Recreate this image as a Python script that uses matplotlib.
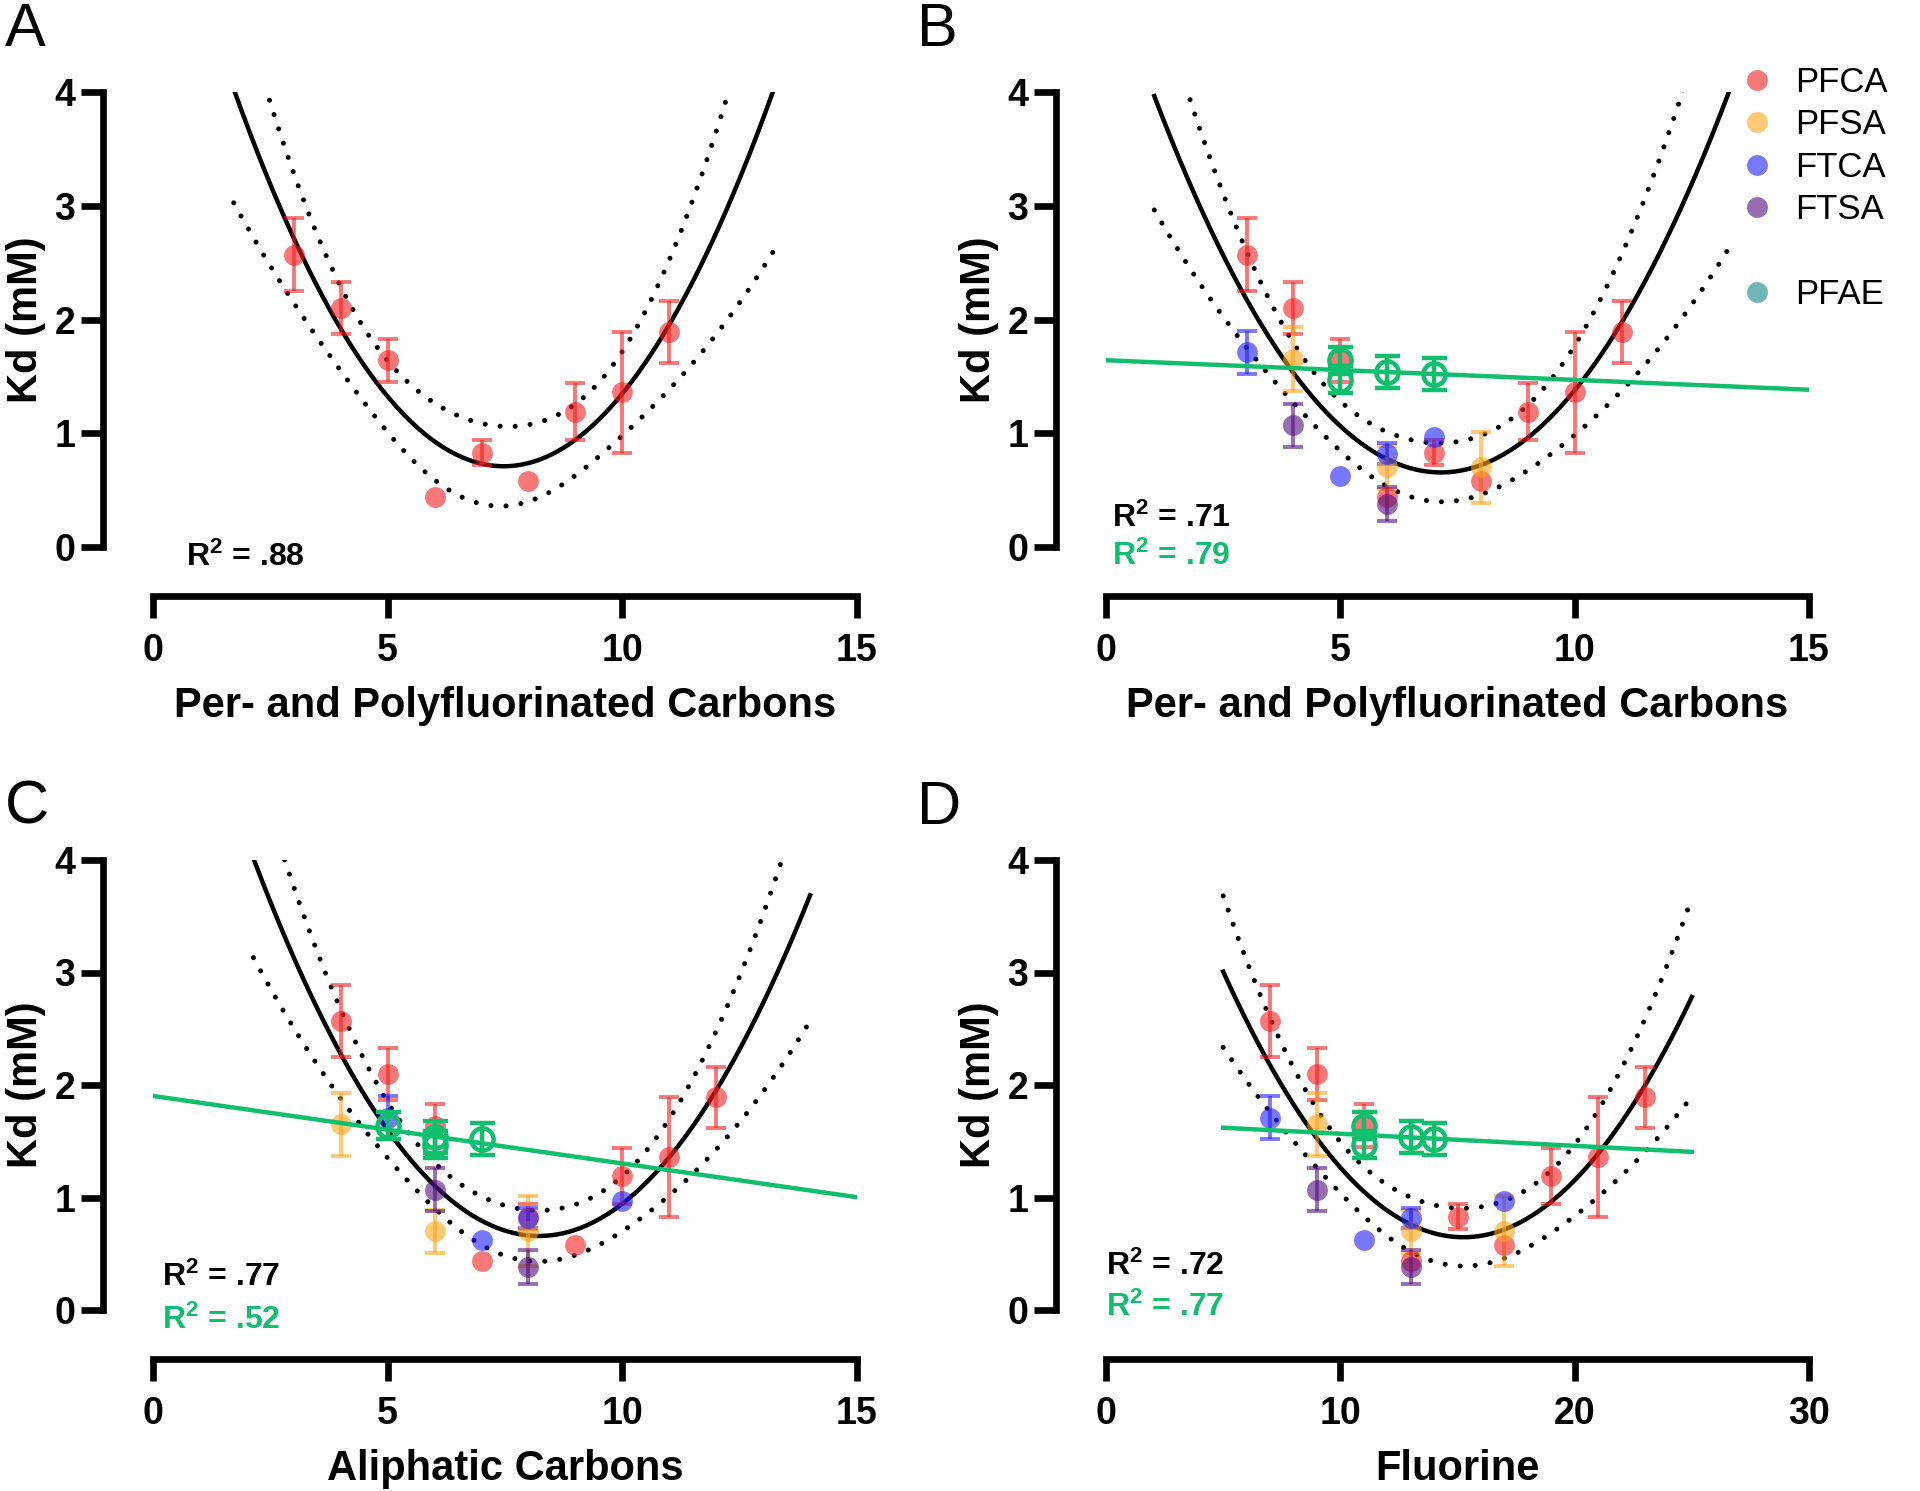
import numpy as np
import matplotlib.pyplot as plt
from matplotlib.lines import Line2D

plt.rcParams['font.family'] = ['Liberation Sans', 'DejaVu Sans']
plt.rcParams['mathtext.fontset'] = 'custom'
plt.rcParams['mathtext.bf'] = 'Liberation Sans:bold'
plt.rcParams['mathtext.rm'] = 'Liberation Sans:bold'
plt.rcParams['mathtext.default'] = 'bf'

# Kd (mM) for each compound class.  x positions: per-/polyfluorinated carbons,
# aliphatic carbons and number of fluorines
pfca_pf = [3, 4, 5, 6, 7, 8, 9, 10, 11]
pfca_al = [4, 5, 6, 7, 8, 9, 10, 11, 12]
pfca_f = [7, 9, 11, 13, 15, 17, 19, 21, 23]
pfca_kd = [2.57, 2.10, 1.64, 0.44, 0.83, 0.58, 1.19, 1.36, 1.89]
pfca_err = [0.32, 0.23, 0.19, 0.0, 0.11, 0.0, 0.25, 0.53, 0.27]

pfsa_pf = [4, 6, 8]
pfsa_al = [4, 6, 8]
pfsa_f = [9, 13, 17]
pfsa_kd = [1.65, 0.70, 0.70]
pfsa_err = [0.28, 0.19, 0.31]

ftca_pf = [3, 5, 6, 7]
ftca_al = [5, 7, 8, 10]
ftca_f = [7, 11, 13, 17]
ftca_kd = [1.71, 0.62, 0.82, 0.97]
ftca_err = [0.19, 0.0, 0.09, 0.0]

ftsa_pf = [4, 6]
ftsa_al = [6, 8]
ftsa_f = [9, 13]
ftsa_kd = [1.07, 0.38]
ftsa_err = [0.19, 0.15]

pfae_pf = [5, 5, 6, 7]
pfae_al = [5, 6, 6, 7]
pfae_f = [11, 11, 13, 14]
pfae_kd = [1.64, 1.47, 1.54, 1.52]
pfae_err = [0.12, 0.12, 0.14, 0.14]

r2_quad = {'A': '.88', 'B': '.71', 'C': '.77', 'D': '.72'}
r2_lin = {'B': '.79', 'C': '.52', 'D': '.77'}

# x range over which the fitted curves are drawn
quad_range = {'A': (1.72, 13.22), 'B': (1.03, 13.3), 'C': (2.14, 14.0), 'D': (5, 25)}
lin_range = {'B': (0, 15), 'C': (0, 15), 'D': (5, 25)}

T95 = {6: 2.447, 15: 2.131}

red = '#F21F1F'
orange = '#FFA51A'
blue = '#1F1FFF'
purple = '#500D7E'
teal = '#0F8787'
green = '#10BF6E'
ALPHA = 0.6


def quad_fit(x, y, x0, x1):
    x = np.asarray(x, float)
    y = np.asarray(y, float)
    X = np.vander(x, 3)
    beta = np.linalg.lstsq(X, y, rcond=None)[0]
    res = y - X @ beta
    dof = len(x) - 3
    cov = (res @ res / dof) * np.linalg.inv(X.T @ X)
    xs = np.linspace(x0, x1, 400)
    V = np.vander(xs, 3)
    fit = V @ beta
    se = np.sqrt(np.einsum('ij,jk,ik->i', V, cov, V))
    return xs, fit, fit - T95[dof] * se, fit + T95[dof] * se


def points(ax, x, y, err, color):
    x, y, err = np.asarray(x), np.asarray(y), np.asarray(err)
    m = err > 0
    ax.errorbar(x[m], y[m], yerr=err[m], fmt='none', ecolor=color, alpha=ALPHA,
                elinewidth=2.8, capsize=7.5, capthick=2.8, zorder=3)
    ax.plot(x, y, 'o', color=color, alpha=ALPHA, ms=15, mew=0, zorder=4)


def style(ax, xmax, xticks, xlabel):
    ax.set_xlim(0, xmax)
    ax.set_ylim(0, 4)
    ax.spines['top'].set_visible(False)
    ax.spines['right'].set_visible(False)
    ax.spines['left'].set_position(('outward', 36))
    ax.spines['bottom'].set_position(('outward', 35))
    ax.spines['left'].set_bounds(0, 4)
    ax.spines['bottom'].set_bounds(0, xmax)
    for s in ['left', 'bottom']:
        ax.spines[s].set_linewidth(4.8)
    ax.set_xticks(xticks)
    ax.set_yticks([0, 1, 2, 3, 4])
    ax.tick_params(width=4.8, length=16, labelsize=27)
    ax.tick_params(axis='x', pad=11)
    ax.tick_params(axis='y', pad=4)
    for lab in ax.get_xticklabels() + ax.get_yticklabels():
        lab.set_fontweight('bold')
    ax.set_xlabel(xlabel, fontsize=30, fontweight='bold', labelpad=12)
    ax.set_ylabel('Kd (mM)', fontsize=30, fontweight='bold', labelpad=6)


fig = plt.figure(figsize=(19.2, 14.91), dpi=100)
W, H = 1920, 1491
pos = {
    'A': [153 / W, 1 - 547 / H, 704 / W, 455 / H],
    'B': [1106 / W, 1 - 547 / H, 703 / W, 455 / H],
    'C': [153 / W, 1 - 1310 / H, 704 / W, 450 / H],
    'D': [1106 / W, 1 - 1310 / H, 703 / W, 450 / H],
}

panels = {
    'A': dict(xmax=15, xticks=[0, 5, 10, 15], xlabel='Per- and Polyfluorinated Carbons', key='pf'),
    'B': dict(xmax=15, xticks=[0, 5, 10, 15], xlabel='Per- and Polyfluorinated Carbons', key='pf'),
    'C': dict(xmax=15, xticks=[0, 5, 10, 15], xlabel='Aliphatic Carbons', key='al'),
    'D': dict(xmax=30, xticks=[0, 10, 20, 30], xlabel='Fluorine', key='f'),
}

xs_by_key = {
    'pf': (pfca_pf, pfsa_pf, ftca_pf, ftsa_pf, pfae_pf),
    'al': (pfca_al, pfsa_al, ftca_al, ftsa_al, pfae_al),
    'f': (pfca_f, pfsa_f, ftca_f, ftsa_f, pfae_f),
}

r2_pos = {'A': (0.7, -0.09, None), 'B': (0.13, 0.25, -0.08),
          'C': (0.2, 0.29, -0.09), 'D': (0.0, 0.39, 0.02)}

for name, p in panels.items():
    ax = fig.add_axes(pos[name])
    style(ax, p['xmax'], p['xticks'], p['xlabel'])
    x_pfca, x_pfsa, x_ftca, x_ftsa, x_pfae = xs_by_key[p['key']]

    if name == 'A':
        fx, fy = list(x_pfca), list(pfca_kd)
    else:
        fx = list(x_pfca) + list(x_pfsa) + list(x_ftca) + list(x_ftsa)
        fy = list(pfca_kd) + list(pfsa_kd) + list(ftca_kd) + list(ftsa_kd)
    xs, fit, lo, hi = quad_fit(fx, fy, *quad_range[name])
    ax.plot(xs, fit, color='black', lw=3.2, zorder=2)
    for band in (lo, hi):
        ax.plot(xs, band, color='black', lw=3.6, ls=(0, (0.01, 3.0)),
                dash_capstyle='round', zorder=2)

    points(ax, x_pfca, pfca_kd, pfca_err, red)
    if name != 'A':
        points(ax, x_pfsa, pfsa_kd, pfsa_err, orange)
        points(ax, x_ftca, ftca_kd, ftca_err, blue)
        points(ax, x_ftsa, ftsa_kd, ftsa_err, purple)

        slope, icpt = np.polyfit(x_pfae, pfae_kd, 1)
        lx = np.array(lin_range[name], float)
        ax.plot(lx, slope * lx + icpt, color=green, lw=3.2, zorder=5)
        ax.errorbar(x_pfae, pfae_kd, yerr=pfae_err, fmt='o', mfc='none', mec=green,
                    ms=16, mew=3.2, ecolor=green, elinewidth=3.2, capsize=9, capthick=3.2,
                    zorder=6)

    tx, ty1, ty2 = r2_pos[name]
    ax.text(tx, ty1, 'R$^2$ = ' + r2_quad[name], fontsize=23, fontweight='bold',
            color='black', va='center', ha='left')
    if ty2 is not None:
        ax.text(tx, ty2, 'R$^2$ = ' + r2_lin[name], fontsize=23, fontweight='bold',
                color=green, va='center', ha='left')

# panel letters
for name, (lx, ly) in {'A': (5, 2), 'B': (917, 2), 'C': (5, 780), 'D': (917, 780)}.items():
    fig.text(lx / W, 1 - ly / H, name, fontsize=44, va='top', ha='left')

# legend
handles = [
    Line2D([], [], ls='none', marker='o', ms=15, mew=0, color=red, alpha=ALPHA),
    Line2D([], [], ls='none', marker='o', ms=15, mew=0, color=orange, alpha=ALPHA),
    Line2D([], [], ls='none', marker='o', ms=15, mew=0, color=blue, alpha=ALPHA),
    Line2D([], [], ls='none', marker='o', ms=15, mew=0, color=purple, alpha=ALPHA),
    Line2D([], [], ls='none', marker='none'),
    Line2D([], [], ls='none', marker='o', ms=15, mew=0, color=teal, alpha=ALPHA),
]
labels = ['PFCA', 'PFSA', 'FTCA', 'FTSA', '', 'PFAE']
fig.legend(handles, labels, loc='upper left', bbox_to_anchor=(1740 / W, 1 - 66 / H),
           frameon=False, fontsize=25, handlelength=1.0, handletextpad=0.6,
           labelspacing=0.27, borderpad=0, borderaxespad=0)

fig.savefig('out.png', dpi=100)
